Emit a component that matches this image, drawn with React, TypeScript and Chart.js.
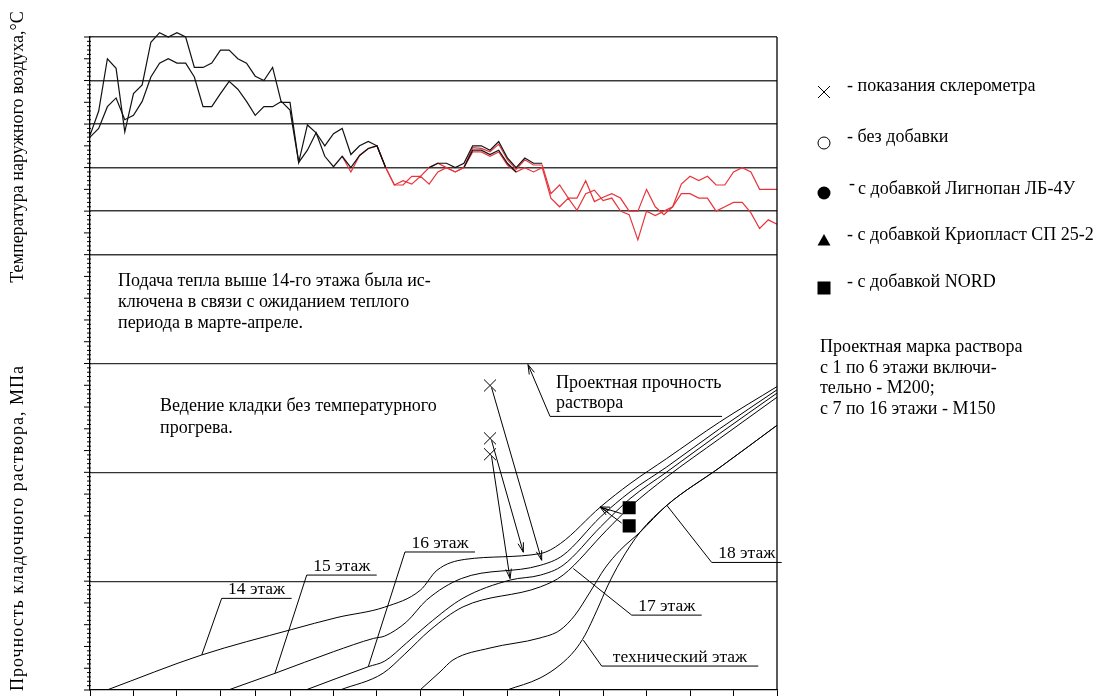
import React, { useEffect, useRef } from 'react';
import { Chart, registerables } from 'chart.js';

Chart.register(...registerables);

const FONT = '"Liberation Serif", "Times New Roman", serif';

// x axis: days of observation, ticks at the reporting dates
const X_MIN = 0;
const X_MAX = 79;
const X_TICKS = [0, 5, 10, 15, 19, 23, 28, 33, 38, 43, 48, 54, 59, 64, 69, 74, 79];

// temperature panel (°C) and strength panel (MPa)
const TEMP_MIN = -27.5;
const TEMP_MAX = 10;
const TEMP_GRID = [10, 5, 0, -5, -10, -15];
const STRENGTH_MIN = 0;
const STRENGTH_MAX = 15;
const STRENGTH_GRID = [15, 10, 5];

// outdoor air temperature, daily values (black pair)
const TEMP_A_START = 0;
const TEMP_A = [
  -1.3, 1.5, 7.5, 6.4, -0.9, 3.5, 4.5, 9.4, 10.5, 10.0, 10.5, 10.0, 6.5, 6.5, 7.0, 8.5, 8.5, 7.5, 7.0, 5.5,
  5.0, 6.5, 2.5, 2.5, -4.4, -0.1, -1.0, -2.5, -1.1, -0.5, -3.5, -2.5, -2.0, -2.5, -5.0, null, null, null, null,
  -5.0, -4.5, -4.5, -5.0, -4.5, -2.5, -2.5, -3.0, -2.0, -3.9, -5.0, -3.9, -4.5, -4.5,
];
const TEMP_B_START = 0;
const TEMP_B = [
  -1.5, -0.5, 2.0, 3.0, 0.5, 1.0, 2.6, 5.4, 7.0, 7.5, 7.0, 7.0, 5.4, 2.0, 2.0, 3.5, 4.9, 4.0, 2.6, 1.0,
  2.0, 2.0, 2.6, 1.6, -4.4, -3.0, -1.0, -3.7, -4.9, -3.7, -5.0, -3.6, -2.8, -2.5, -5.0, null, null, null, null,
  null, null, null, null, -5.0, -3.0, -3.0, -3.5, -3.0, -4.5, -5.5,
];
// continuation of the record (red pair)
const TEMP_C_START = 33;
const TEMP_C = [
  -2.5, -5.0, -7.0, -7.0, -6.0, -6.0, -5.0, -4.5, -5.0, -5.5, -5.0, -2.7, -2.8, -3.2, -2.3, -4.1, -5.2, -4.1,
  -4.7, -4.7, -8.0, -7.0, -8.5, -8.5, -6.5, -8.9, -8.4, -8.0, -8.5, -10.0, -10.0, -7.5, -9.5, -10.4, -9.5,
  -6.9, -6.0, -6.5, -6.0, -7.0, -7.0, -5.5, -5.0, -5.5, -7.5, -7.5, -7.5,
];
const TEMP_D_START = 29;
const TEMP_D = [
  -3.7, -5.5, -3.6, -2.8, -2.5, -5.0, -7.0, -6.5, -6.9, -6.0, -6.9, -5.5, -5.0, -5.5, -5.0, -3.2, -3.2, -3.7,
  -3.2, -4.7, -5.5, -5.0, -5.5, -5.0, -8.5, -9.5, -8.5, -9.9, -8.0, -7.6, -8.8, -8.5, -10.0, -10.4, -13.3,
  -10.0, -10.5, -10.0, -9.5, -8.0, -8.0, -8.5, -8.5, -10.0, -9.5, -9.0, -9.0, -10.2, -12.0, -11.0, -11.5,
];

// mortar strength gain per floor: [day, MPa]
const FLOOR_14: [number, number][] = [
  [1.95, 0], [12.85, 1.61], [23.2, 2.78], [28.4, 3.33], [33.9, 3.81], [38.0, 4.59], [39.9, 5.5], [43.1, 6.0],
  [51.8, 6.27], [54.1, 6.73], [58.7, 8.41], [62.1, 9.48], [66.3, 10.63], [72.4, 12.31], [79, 13.94],
];
const FLOOR_15: [number, number][] = [
  [15.9, 0], [21.3, 0.77], [28.0, 1.76], [32.6, 2.37], [33.9, 2.48], [36.4, 3.13], [38.7, 4.13], [42.7, 5.12],
  [51.8, 5.73], [54.4, 6.19], [58.7, 7.95], [62.1, 9.1], [66.3, 10.24], [72.4, 12.0], [79, 13.79],
];
const FLOOR_16: [number, number][] = [
  [24.8, 0], [32.0, 1.07], [33.9, 1.33], [36.4, 2.16], [38.9, 3.03], [42.9, 4.22], [48.3, 5.05], [51.8, 5.28],
  [54.4, 5.73], [58.7, 7.49], [62.1, 8.79], [66.3, 10.01], [72.4, 11.78], [79, 13.64],
];
const FLOOR_17: [number, number][] = [
  [28.75, 0], [33.7, 0.77], [36.2, 1.65], [39.1, 2.75], [42.9, 3.82], [51.8, 4.74], [54.4, 5.28], [59.4, 7.34],
  [62.1, 8.41], [66.3, 9.78], [72.4, 11.55], [79, 13.45],
];
const FLOOR_18: [number, number][] = [
  [37.95, 0], [40.25, 0.83], [41.74, 1.38], [46.0, 1.93], [51.75, 2.39], [54.05, 2.75], [55.77, 3.44],
  [57.5, 4.5], [59.22, 5.6], [60.95, 6.42], [63.25, 7.25], [66.35, 8.49], [72.45, 10.23], [79, 12.16],
];
const FLOOR_TECH: [number, number][] = [
  [47.95, 0], [51.75, 0.55], [54.05, 1.15], [55.77, 1.83], [56.92, 2.52], [58.3, 3.67], [59.57, 4.82],
  [60.95, 5.87], [63.25, 7.25], [66.35, 8.49], [72.45, 10.23], [79, 12.16],
];

// sclerometer readings and the curves they were checked against
const SCLERO_DAYS = [46.0, 46.0, 46.0];
const SCLERO_MPA = [13.99, 11.56, 10.83];
const SCLERO_TARGETS: [number, number][] = [[51.94, 5.96], [49.83, 6.33], [48.3, 5.12]];

// samples with NORD additive
const NORD_DAYS = [62.0, 62.0];
const NORD_MPA = [8.37, 7.54];
const NORD_TARGET: [number, number] = [58.65, 8.41];
const NORD_ARROW_FROM: [number, number][] = [[61.14, 8.1], [61.14, 7.67]];

// floor labels: leader target on the curve, shelf [fromDay, toDay, MPa]
const CALLOUTS = [
  { text: '14 этаж', target: [12.85, 1.61], shelf: [15.14, 23.19, 4.21] },
  { text: '15 этаж', target: [21.27, 0.77], shelf: [24.92, 32.97, 5.28] },
  { text: '16 этаж', target: [32.0, 1.07], shelf: [36.22, 44.27, 6.34] },
  { text: '17 этаж', target: [55.58, 5.58], shelf: [62.29, 70.34, 3.44] },
  { text: '18 этаж', target: [66.32, 8.49], shelf: [71.49, 79.54, 5.86] },
  { text: 'технический этаж', target: [56.73, 2.29], shelf: [58.84, 76.85, 1.1] },
];

const DESIGN_NOTE = ['Проектная прочность', 'раствора'];
const HEAT_NOTE = [
  'Подача тепла выше 14-го этажа была ис-',
  'ключена в связи с ожиданием теплого',
  'периода в марте-апреле.',
];
const COLD_NOTE = ['Ведение кладки без температурного', 'прогрева.'];
const LEGEND = [
  { marker: 'cross', label: '- показания склерометра' },
  { marker: 'circle', label: '- без добавки' },
  { marker: 'disc', label: 'с добавкой Лигнопан ЛБ-4У' },
  { marker: 'triangle', label: '- с добавкой Криопласт СП 25-2' },
  { marker: 'square', label: '- с добавкой NORD' },
];
const GRADE_NOTE = [
  'Проектная марка раствора',
  'с 1 по 6 этажи включи-',
  'тельно - М200;',
  'с 7 по 16 этажи - М150',
];
const TITLE_TEMP = 'Температура наружного воздуха,°С';
const TITLE_STRENGTH = 'Прочность кладочного раствора, МПа';

const RED = '#e8343a';

const series = (start: number, values: (number | null)[]) =>
  values.map((v, i) => ({ x: start + i, y: v }));
const pairs = (pts: [number, number][]) => pts.map(([x, y]) => ({ x, y }));

function arrowHead(ctx: CanvasRenderingContext2D, x0: number, y0: number, x1: number, y1: number) {
  const a = Math.atan2(y1 - y0, x1 - x0);
  const len = 10;
  const spread = 0.28;
  ctx.beginPath();
  ctx.moveTo(x1 - len * Math.cos(a - spread), y1 - len * Math.sin(a - spread));
  ctx.lineTo(x1, y1);
  ctx.lineTo(x1 - len * Math.cos(a + spread), y1 - len * Math.sin(a + spread));
  ctx.stroke();
}

const overlay = {
  id: 'overlay',
  afterDatasetsDraw(chart: any) {
    const ctx: CanvasRenderingContext2D = chart.ctx;
    const xs = chart.scales.x;
    const yS = chart.scales.yS;
    const yT = chart.scales.yT;
    const { left, right, top, bottom } = chart.chartArea;
    const X = (d: number) => xs.getPixelForValue(d);
    const S = (v: number) => yS.getPixelForValue(v);
    const T = (v: number) => yT.getPixelForValue(v);

    ctx.save();
    ctx.strokeStyle = '#000';
    ctx.fillStyle = '#000';

    // right frame
    ctx.lineWidth = 1.3;
    ctx.beginPath();
    ctx.moveTo(right, top);
    ctx.lineTo(right, bottom);
    ctx.stroke();

    // left axis tick marks
    ctx.lineWidth = 1;
    const tick = (py: number, major: boolean) => {
      ctx.beginPath();
      ctx.moveTo(major ? left - 6 : left - 3, py);
      ctx.lineTo(left + 1, py);
      ctx.stroke();
    };
    for (let k = 0; k <= 75; k++) {
      tick(S(STRENGTH_MIN + k * 0.2), k % 5 === 0);
    }
    for (let k = 1; k <= 75; k++) {
      tick(T(TEMP_MIN + k * 0.5), k % 5 === 0);
    }

    ctx.textBaseline = 'alphabetic';

    // floor callouts
    ctx.font = `17.5px ${FONT}`;
    for (const c of CALLOUTS) {
      const tx = X(c.target[0]);
      const ty = S(c.target[1]);
      const s0 = X(c.shelf[0]);
      const s1 = X(c.shelf[1]);
      const sy = S(c.shelf[2]);
      ctx.beginPath();
      ctx.moveTo(tx, ty);
      ctx.lineTo(s0, sy);
      ctx.lineTo(s1, sy);
      ctx.stroke();
      ctx.textAlign = 'center';
      ctx.fillText(c.text, (s0 + s1) / 2, sy - 4);
    }

    ctx.font = `18px ${FONT}`;

    // design strength callout
    {
      const s0 = X(52.9);
      const s1 = X(72.68);
      const sy = S(12.57);
      const ax = X(50.37);
      const ay = S(14.95);
      ctx.beginPath();
      ctx.moveTo(s1, sy);
      ctx.lineTo(s0, sy);
      ctx.lineTo(ax, ay);
      ctx.stroke();
      arrowHead(ctx, s0, sy, ax, ay);
      ctx.textAlign = 'left';
      ctx.fillText(DESIGN_NOTE[0], X(53.6), S(13.88));
      ctx.fillText(DESIGN_NOTE[1], X(53.6), S(12.96));
    }

    // sclerometer arrows
    SCLERO_DAYS.forEach((d, i) => {
      const x0 = X(d) + 1.5;
      const y0 = S(SCLERO_MPA[i]) + 2;
      const x1 = X(SCLERO_TARGETS[i][0]);
      const y1 = S(SCLERO_TARGETS[i][1]);
      ctx.beginPath();
      ctx.moveTo(x0, y0);
      ctx.lineTo(x1, y1);
      ctx.stroke();
      arrowHead(ctx, x0, y0, x1, y1);
    });

    // NORD arrows
    NORD_ARROW_FROM.forEach(([d, v]) => {
      const x0 = X(d);
      const y0 = S(v);
      const x1 = X(NORD_TARGET[0]);
      const y1 = S(NORD_TARGET[1]);
      ctx.beginPath();
      ctx.moveTo(x0, y0);
      ctx.lineTo(x1, y1);
      ctx.stroke();
      arrowHead(ctx, x0, y0, x1, y1);
    });

    // notes inside the panels
    ctx.textAlign = 'left';
    HEAT_NOTE.forEach((line, i) => ctx.fillText(line, X(3.22), T(-18.6 - i * 2.41)));
    COLD_NOTE.forEach((line, i) => ctx.fillText(line, X(8.05), S(12.8 - i * 0.97)));

    // legend
    const mx = 824;
    const tx = 847;
    const rows = [
      { my: 92, ty: 90.5 },
      { my: 143, ty: 141.5 },
      { my: 193, ty: 194 },
      { my: 240, ty: 239.5 },
      { my: 288, ty: 286.5 },
    ];
    LEGEND.forEach((item, i) => {
      const { my, ty } = rows[i];
      ctx.lineWidth = 1;
      if (item.marker === 'cross') {
        ctx.beginPath();
        ctx.moveTo(mx - 6, my - 6);
        ctx.lineTo(mx + 6, my + 6);
        ctx.moveTo(mx + 6, my - 6);
        ctx.lineTo(mx - 6, my + 6);
        ctx.stroke();
      } else if (item.marker === 'circle') {
        ctx.beginPath();
        ctx.arc(mx, my, 6, 0, Math.PI * 2);
        ctx.stroke();
      } else if (item.marker === 'disc') {
        ctx.beginPath();
        ctx.arc(mx, my, 6.5, 0, Math.PI * 2);
        ctx.fill();
      } else if (item.marker === 'triangle') {
        ctx.beginPath();
        ctx.moveTo(mx, my - 6);
        ctx.lineTo(mx + 6.5, my + 5.5);
        ctx.lineTo(mx - 6.5, my + 5.5);
        ctx.closePath();
        ctx.fill();
      } else {
        ctx.fillRect(mx - 6.5, my - 6.5, 13, 13);
      }
      if (item.marker === 'disc') {
        ctx.fillText('-', tx + 2, ty - 5);
        ctx.fillText(item.label, tx + 11, ty);
      } else {
        ctx.fillText(item.label, tx, ty);
      }
    });
    GRADE_NOTE.forEach((line, i) => ctx.fillText(line, 820, 352 + i * 20.5));

    // axis titles
    const vTitle = (text: string, cx: number, cy: number, spacing: string) => {
      ctx.save();
      ctx.translate(cx, cy);
      ctx.rotate(-Math.PI / 2);
      (ctx as any).letterSpacing = spacing;
      ctx.textAlign = 'center';
      ctx.textBaseline = 'middle';
      ctx.fillText(text, 0, 0);
      ctx.restore();
    };
    vTitle(TITLE_TEMP, 18, 147, '0px');
    vTitle(TITLE_STRENGTH, 18, 528, '1px');

    ctx.restore();
  },
};

export default function App() {
  const ref = useRef<HTMLCanvasElement>(null);

  useEffect(() => {
    if (!ref.current) return;
    Chart.defaults.font.family = FONT;
    const line = (data: any[], color: string, order: number, yAxisID: string, extra: any = {}) => ({
      type: 'line' as const,
      data,
      yAxisID,
      borderColor: color,
      borderWidth: 1.2,
      pointRadius: 0,
      tension: 0,
      order,
      ...extra,
    });
    const curve = (pts: [number, number][]) =>
      line(pairs(pts), '#000', 0, 'yS', { borderWidth: 1, cubicInterpolationMode: 'monotone' });

    const chart = new Chart(ref.current, {
      type: 'line',
      data: {
        datasets: [
          line(series(TEMP_A_START, TEMP_A), '#111', 1, 'yT', { clip: false }),
          line(series(TEMP_B_START, TEMP_B), '#111', 1, 'yT', { clip: false }),
          line(series(TEMP_C_START, TEMP_C), RED, 2, 'yT', { clip: false }),
          line(series(TEMP_D_START, TEMP_D), RED, 2, 'yT', { clip: false }),
          curve(FLOOR_14),
          curve(FLOOR_15),
          curve(FLOOR_16),
          curve(FLOOR_17),
          curve(FLOOR_18),
          curve(FLOOR_TECH),
          {
            type: 'line' as const,
            data: SCLERO_DAYS.map((d, i) => ({ x: d, y: SCLERO_MPA[i] })),
            yAxisID: 'yS',
            showLine: false,
            pointStyle: 'crossRot',
            pointRadius: 8.5,
            pointBorderColor: '#000',
            pointBorderWidth: 1,
            order: 0,
          },
          {
            type: 'line' as const,
            data: NORD_DAYS.map((d, i) => ({ x: d, y: NORD_MPA[i] })),
            yAxisID: 'yS',
            showLine: false,
            pointStyle: 'rect',
            pointRadius: 9.2,
            pointBackgroundColor: '#000',
            pointBorderWidth: 0,
            order: 0,
          },
        ],
      },
      options: {
        animation: false,
        responsive: false,
        events: [],
        layout: { autoPadding: false, padding: { left: 90, right: 319, top: 37, bottom: 0 } },
        plugins: { legend: { display: false }, tooltip: { enabled: false } },
        scales: {
          x: {
            type: 'linear',
            position: 'bottom',
            min: X_MIN,
            max: X_MAX,
            afterBuildTicks: (s: any) => {
              s.ticks = X_TICKS.map((v) => ({ value: v }));
            },
            afterFit: (s: any) => {
              s.height = 6;
            },
            ticks: { display: false },
            grid: { drawOnChartArea: false, drawTicks: true, tickLength: 8, color: '#000', lineWidth: 1 },
            border: { display: true, color: '#000', width: 1.3 },
          },
          yS: {
            type: 'linear',
            position: 'left',
            stack: 'panels',
            stackWeight: 1,
            min: STRENGTH_MIN,
            max: STRENGTH_MAX,
            afterBuildTicks: (s: any) => {
              s.ticks = STRENGTH_GRID.map((v) => ({ value: v }));
            },
            afterFit: (s: any) => {
              s.width = 0;
            },
            ticks: { display: false },
            grid: { drawTicks: false, color: '#333', lineWidth: 1.2 },
            border: { display: true, color: '#000', width: 1.3 },
          },
          yT: {
            type: 'linear',
            position: 'left',
            stack: 'panels',
            stackWeight: 1,
            min: TEMP_MIN,
            max: TEMP_MAX,
            afterBuildTicks: (s: any) => {
              s.ticks = TEMP_GRID.map((v) => ({ value: v }));
            },
            afterFit: (s: any) => {
              s.width = 0;
            },
            ticks: { display: false },
            grid: { drawTicks: false, color: '#3a3a3a', lineWidth: 1.4 },
            border: { display: true, color: '#000', width: 1.3 },
          },
        },
      } as any,
      plugins: [overlay],
    });
    return () => chart.destroy();
  }, []);

  return (
    <div style={{ position: 'fixed', left: 0, top: 0, width: 1096, height: 696, background: '#fff' }}>
      <canvas ref={ref} width={1096} height={696} style={{ display: 'block' }} />
    </div>
  );
}
